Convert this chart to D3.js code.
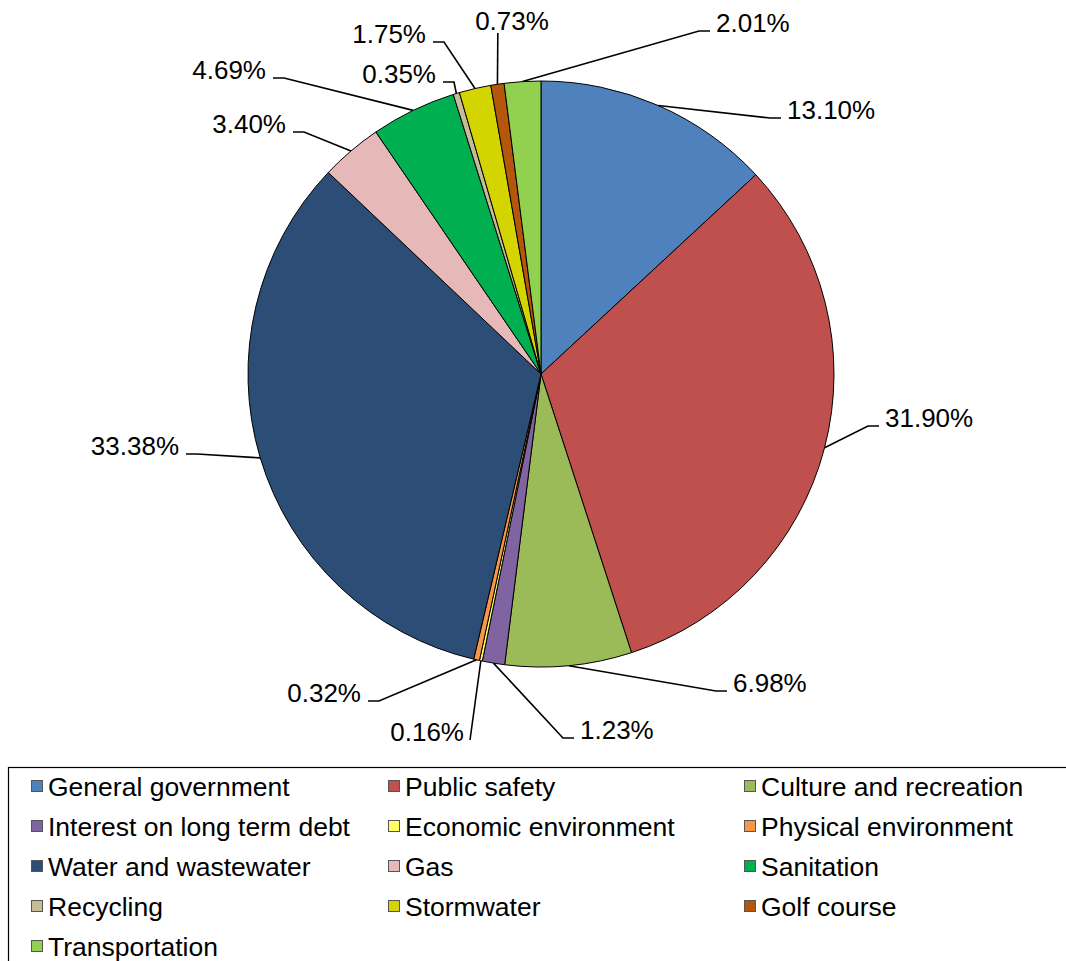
<!DOCTYPE html>
<html>
<head>
<meta charset="utf-8">
<script src="https://cdn.jsdelivr.net/npm/d3@7"></script>
<style>
  html, body { margin: 0; padding: 0; background: #fff; }
  svg { display: block; font-family: "Liberation Sans", Arial, sans-serif; }
</style>
</head>
<body>
<svg id="chart" width="1066" height="961"></svg>
<script>
// ---- Data ----
const categories = [
  "General government", "Public safety", "Culture and recreation",
  "Interest on long term debt", "Economic environment", "Physical environment",
  "Water and wastewater", "Gas", "Sanitation",
  "Recycling", "Stormwater", "Golf course",
  "Transportation"
];
const values = [13.10, 31.90, 6.98, 1.23, 0.16, 0.32, 33.38, 3.40, 4.69, 0.35, 1.75, 0.73, 2.01];
const valueLabels = ["13.10%", "31.90%", "6.98%", "1.23%", "0.16%", "0.32%", "33.38%", "3.40%", "4.69%", "0.35%", "1.75%", "0.73%", "2.01%"];
const colors = [
  "#4F81BD", "#C0504D", "#9BBB59",
  "#8064A2", "#FFFF66", "#F79646",
  "#2C4D75", "#E6B9B8", "#00B050",
  "#C4BD97", "#D4D400", "#B5570A",
  "#92D050"
];

// ---- Layout ----
const W = 1066, H = 961;
const cx = 541, cy = 374, R = 293;
// label placement: side (start = text to the right, end = text to the left, above, below)
const labelLayout = [
  { side: "start", x: 787, y: 119 },
  { side: "start", x: 885, y: 427 },
  { side: "start", x: 733, y: 692 },
  { side: "start", x: 580, y: 739 },
  { side: "below", x: 464, y: 741 },
  { side: "end",   x: 361, y: 702 },
  { side: "end",   x: 179, y: 455 },
  { side: "end",   x: 286, y: 133 },
  { side: "end",   x: 266, y: 79 },
  { side: "end",   x: 436, y: 83 },
  { side: "end",   x: 426, y: 43 },
  { side: "above", x: 512, y: 30 },
  { side: "start", x: 716, y: 32 }
];

const svg = d3.select("#chart");
const data = categories.map((c, i) => ({ name: c, value: values[i], label: valueLabels[i], color: colors[i], i }));

const pie = d3.pie().sort(null).value(d => d.value);
const arc = d3.arc().innerRadius(0).outerRadius(R);
const arcs = pie(data);

const g = svg.append("g").attr("transform", `translate(${cx},${cy})`);
g.selectAll("path.slice")
  .data(arcs)
  .join("path")
  .attr("class", "slice")
  .attr("d", arc)
  .attr("fill", d => d.data.color)
  .attr("stroke", "#000")
  .attr("stroke-width", 1)
  .attr("stroke-linejoin", "round");

// leader lines + labels
const fontSize = 26;
arcs.forEach((a, i) => {
  const lay = labelLayout[i];
  const mid = (a.startAngle + a.endAngle) / 2;
  const px = cx + R * Math.sin(mid);
  const py = cy - R * Math.cos(mid);
  let pts;
  const ly = lay.y - 1;
  if (lay.side === "start") {
    pts = [[px, py], [lay.x - 17, ly], [lay.x - 6, ly]];
  } else if (lay.side === "end") {
    pts = [[px, py], [lay.x + 18, ly], [lay.x + 7, ly]];
  } else if (lay.side === "above") {
    pts = [[px, py], [px + 0.4, lay.y + 3]];
  } else {
    pts = [[px, py], [lay.x + 6, ly]];
  }
  svg.append("path")
    .attr("d", d3.line()(pts))
    .attr("fill", "none")
    .attr("stroke", "#000")
    .attr("stroke-width", 1.6);
  const anchor = lay.side === "start" ? "start" : (lay.side === "above" ? "middle" : "end");
  svg.append("text")
    .attr("x", lay.x)
    .attr("y", lay.y)
    .attr("text-anchor", anchor)
    .attr("font-size", fontSize)
    .attr("fill", "#000")
    .text(a.data.label);
});

// ---- Legend ----
svg.append("rect")
  .attr("x", 8.5).attr("y", 767.5)
  .attr("width", 1100).attr("height", 300)
  .attr("fill", "#fff")
  .attr("stroke", "#000")
  .attr("stroke-width", 1.2);

const colX = [31, 388, 744];
const rowY0 = 787, rowStep = 40;
const leg = svg.append("g");
data.forEach((d, i) => {
  const col = i % 3, row = Math.floor(i / 3);
  const x = colX[col], y = rowY0 + row * rowStep;
  leg.append("rect")
    .attr("x", x + 0.5).attr("y", y - 6.5)
    .attr("width", 11).attr("height", 11)
    .attr("fill", d.color)
    .attr("stroke", "#555")
    .attr("stroke-width", 1);
  leg.append("text")
    .attr("x", x + 17).attr("y", y + 9)
    .attr("font-size", 26.5)
    .attr("fill", "#000")
    .text(d.name);
});
</script>
</body>
</html>
